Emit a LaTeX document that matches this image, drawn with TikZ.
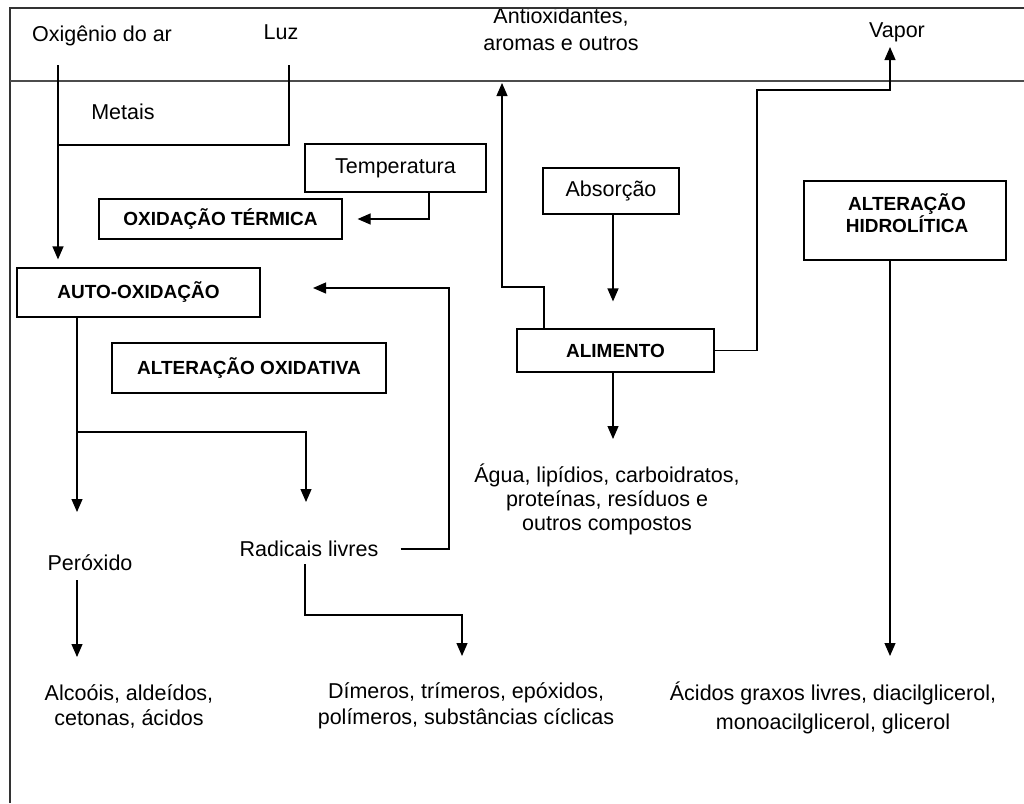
\documentclass[tikz,border=0pt]{standalone}
\usepackage{fontspec}
\setmainfont{Liberation Sans}
\usetikzlibrary{arrows.meta,positioning}

\tikzset{
    texto/.style={font=\fontsize{21.5pt}{25pt}\selectfont, align=center, inner sep=1pt},
    negrito/.style={font=\bfseries\fontsize{19pt}{22pt}\selectfont},
    caixa/.style={draw, line width=1.2pt, font=\fontsize{21.5pt}{25pt}\selectfont, align=center, inner sep=0pt},
    seta/.style={line width=1.2pt, -{Triangle[width=11pt,length=13pt]}},
    linha/.style={line width=1.2pt}
}

\begin{document}
\begin{tikzpicture}[x=1pt,y=-1pt]
    \useasboundingbox (0,0) rectangle (1024,803);
    %% textos soltos
    \node[texto] (oxi) at (102,36) {Oxigênio do ar};
    \node[texto] (luz) at (281,32) {Luz};
    \node[texto, font=\fontsize{21.5pt}{27pt}\selectfont] (antiox) at (561,29) {Antioxidantes,\\aromas e outros};
    \node[texto] (vapor) at (897,32) {Vapor};
    \node[texto] (metais) at (123,112) {Metais};
    \node[texto] (peroxido) at (90,563) {Peróxido};
    \node[texto] (radicais) at (309,549) {Radicais livres};
    \node[texto] (alcoois) at (129,706) {Alcoóis, aldeídos,\\cetonas, ácidos};
    \node[texto, font=\fontsize{21.5pt}{26pt}\selectfont] (dimeros) at (466,706)
        {Dímeros, trímeros, epóxidos,\\polímeros, substâncias cíclicas};
    \node[texto, font=\fontsize{21.5pt}{29pt}\selectfont] (acidos) at (833,708)
        {Ácidos graxos livres, diacilglicerol,\\monoacilglicerol, glicerol};
    \node[texto, font=\fontsize{21.5pt}{24pt}\selectfont] (agua) at (607,499)
        {Água, lipídios, carboidratos,\\proteínas, resíduos e\\outros compostos};
    %% caixas
    \node[caixa, minimum width=181pt, minimum height=48pt] (temp) at (395.5,168) {Temperatura};
    \node[caixa, negrito, minimum width=243pt, minimum height=40pt] (termica) at (220.5,219) {OXIDAÇÃO TÉRMICA};
    \node[caixa, negrito, minimum width=243pt, minimum height=49pt] (auto) at (138.5,292.5) {AUTO-OXIDAÇÃO};
    \node[caixa, negrito, minimum width=274pt, minimum height=50pt] (oxidativa) at (249,368) {ALTERAÇÃO OXIDATIVA};
    \node[caixa, minimum width=136pt, minimum height=46pt] (absorcao) at (611,191) {Absorção};
    \node[caixa, negrito, minimum width=197pt, minimum height=43pt] (alimento) at (615.5,350.5) {ALIMENTO};
    \node[caixa, minimum width=202pt, minimum height=79pt] (hidro) at (905,220.5) {};
    \node[negrito, align=center, inner sep=0pt] (hidrotxt) at (907,213) {ALTERAÇÃO\\HIDROLÍTICA};
    %% quadro
    \draw[linha, black!80] (10,803) -- (10,8) -- (1024,8);
    \draw[linha, black!70] (10,81) -- (1024,81);
    %% pontos das setas
    \coordinate (oxiini) at (58,65);
    \coordinate (luzini) at (289,65);
    \coordinate (metaisjunta) at (58,145);
    \coordinate (radvolta) at (449,288);
    \coordinate (autoentra) at (313,288);
    \coordinate (ramo) at (77,432);
    \coordinate (perseta) at (77,512);
    \coordinate (radseta) at (306,502);
    \coordinate (dimvolta) at (462,615);
    \coordinate (dimseta) at (462,656);
    \coordinate (alcseta) at (77,657);
    \coordinate (aguaseta) at (613,439);
    \coordinate (antivolta) at (502,287);
    \coordinate (antiseta) at (502,83);
    \coordinate (vapvolta) at (757,90);
    \coordinate (vapseta) at (890,47);
    \coordinate (acseta) at (890,656);
    %% setas
    \draw[seta, shorten >=8pt] (oxiini) -- (oxiini |- auto.north);
    \draw[linha] (luzini) |- (metaisjunta);
    \draw[seta, shorten >=15pt] ([xshift=33.5pt]temp.south) |- (termica.east);
    \draw[seta] ([xshift=21pt]radicais.east) -| (radvolta) -- (autoentra);
    \draw[seta] (auto.south -| ramo) -- (perseta);
    \draw[seta] (ramo) -| (radseta);
    \draw[seta, shorten <=6pt] ([xshift=-4pt]radicais.south) |- (dimvolta) -- (dimseta);
    \draw[seta, shorten <=8pt] (peroxido.south -| alcseta) -- (alcseta);
    \draw[seta, shorten >=27pt] ([xshift=2pt]absorcao.south) -- ([xshift=2pt]absorcao.south |- alimento.north);
    \draw[seta] (alimento.south -| aguaseta) -- (aguaseta);
    \draw[seta] ([xshift=-71.5pt]alimento.north) |- (antivolta) -- (antiseta);
    \draw[seta] (alimento.east) -| (vapvolta) -| (vapseta);
    \draw[seta] (hidro.south -| acseta) -- (acseta);
\end{tikzpicture}
\end{document}
